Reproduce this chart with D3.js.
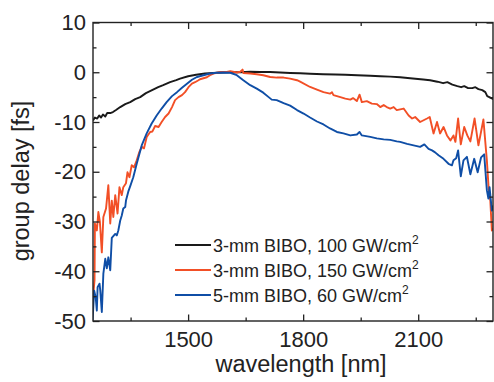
<!DOCTYPE html>
<html><head><meta charset="utf-8">
<script src="https://cdn.jsdelivr.net/npm/d3@7"></script>
<style>body{margin:0;background:#fff}svg{display:block}</style>
</head><body>
<script>
// ---- data (wavelength nm, group delay fs) ----
const blackNm = [1252,1257,1263,1268,1273,1278,1284,1289,1297,1304,1312,1323,1336,1349,1362,1375,1390,1406,1422,1435,1453,1469,1479,1500,1521,1544,1565,1589,1610,1636,1662,1688,1714,1740,1766,1792,1818,1852,1884,1910,1941,1975,2001,2027,2053,2079,2113,2131,2150,2165,2176,2189,2202,2212,2220,2230,2241,2249,2257,2267,2275,2280,2288,2296];
const blackFs = [-9.7,-9.1,-9.3,-8.7,-9.1,-8.5,-8.9,-8.2,-8.2,-8.0,-7.6,-7.0,-6.4,-6.0,-5.4,-5.0,-4.2,-3.6,-3.0,-2.6,-2.0,-1.6,-1.3,-0.8,-0.5,-0.26,-0.14,-0.04,0,0,0.1,0.06,0.06,-0.06,-0.14,-0.2,-0.3,-0.4,-0.46,-0.5,-0.6,-0.7,-0.8,-0.87,-1.0,-1.2,-1.47,-1.6,-1.9,-2.2,-2.0,-2.5,-2.8,-3.0,-2.8,-3.2,-3.2,-3.0,-3.4,-3.6,-4.0,-4.8,-5.1,-5.4];

const redNm = [1252,1256,1257,1262,1266,1270,1275,1279,1286,1292,1297,1301,1305,1310,1316,1321,1327,1331,1338,1342,1347,1353,1359,1366,1373,1379,1385,1392,1401,1407,1414,1423,1431,1440,1449,1458,1466,1475,1484,1492,1501,1510,1518,1527,1531,1549,1557,1566,1584,1601,1610,1627,1636,1642,1644,1662,1679,1696,1714,1731,1749,1766,1784,1792,1818,1836,1853,1870,1875,1879,1897,1910,1923,1930,1940,1947,1953,1966,1979,1992,2001,2010,2018,2027,2036,2044,2062,2075,2084,2092,2105,2123,2130,2140,2149,2157,2166,2175,2184,2192,2197,2204,2211,2220,2228,2236,2247,2257,2270,2279,2284,2288,2292,2296];
const redFs = [-45.3,-41.8,-30.4,-31.8,-28.1,-30.1,-36.2,-29.1,-27.4,-22.7,-30.4,-25.8,-29.1,-24.7,-28.4,-23.1,-24.7,-23.1,-22.3,-20.1,-21.1,-18.7,-19.1,-17.7,-16.0,-15.0,-15.3,-13.0,-12.0,-11.9,-10.8,-11.0,-10.0,-9.0,-8.3,-7.0,-5.6,-5.0,-4.6,-4.0,-3.0,-2.3,-2.0,-1.6,-1.4,-1.0,-0.6,-0.26,0.06,0.06,0.2,-0.06,0.1,0.54,-0.14,-0.26,-0.4,-0.6,-0.95,-1.07,-1.07,-1.27,-1.6,-1.9,-2.96,-3.5,-4.0,-4.3,-4.0,-4.6,-5.0,-5.3,-5.5,-5.2,-5.8,-4.5,-6.0,-5.8,-6.3,-6.4,-7.0,-6.6,-7.0,-7.3,-7.0,-7.6,-7.3,-8.7,-9.3,-9.0,-10.0,-9.3,-9.0,-12.3,-10.0,-12.3,-11.0,-12.7,-13.7,-12.7,-14.0,-9.3,-14.5,-11.0,-12.7,-13.9,-9.3,-14.7,-9.5,-17.7,-23.7,-25.8,-31.8,-31.4];

const blueNm = [1251,1255,1259,1262,1264,1269,1271,1275,1279,1284,1288,1292,1297,1301,1310,1314,1318,1323,1327,1331,1336,1338,1344,1350,1357,1366,1379,1392,1405,1418,1431,1444,1458,1471,1484,1497,1510,1523,1540,1557,1575,1592,1610,1627,1644,1662,1679,1696,1710,1718,1731,1749,1766,1784,1801,1818,1836,1853,1870,1888,1905,1923,1940,1947,1953,1975,1992,2010,2027,2044,2053,2071,2088,2105,2116,2127,2136,2144,2153,2166,2179,2188,2192,2199,2204,2211,2218,2227,2236,2246,2255,2264,2272,2279,2283,2286,2292,2296];
const blueFs = [-49.9,-43.9,-45.2,-47.9,-43.2,-42.5,-43.9,-48.2,-40.5,-37.5,-39.4,-37.2,-39.8,-33.3,-32.5,-32.8,-31.8,-29.8,-28.8,-27.4,-27.1,-25.8,-24.0,-22.7,-21.1,-18.4,-14.7,-12.3,-10.3,-8.7,-7.3,-6.0,-4.8,-4.0,-3.1,-2.3,-1.5,-0.95,-0.6,-0.26,-0.1,-0.06,-0.1,-0.6,-1.6,-2.6,-3.3,-4.1,-5.0,-5.5,-5.6,-6.2,-6.7,-7.6,-8.3,-9.1,-9.9,-10.5,-11.3,-12.0,-12.3,-12.7,-12.5,-12.0,-12.7,-13.0,-13.3,-13.5,-13.6,-13.9,-14.0,-14.4,-14.7,-15.0,-14.5,-15.4,-15.7,-16.1,-16.7,-17.4,-18.4,-18.7,-17.7,-17.3,-15.7,-20.9,-17.7,-17.0,-20.5,-17.4,-20.1,-17.1,-16.5,-23.7,-25.4,-23.1,-27.8,-26.8];

const seriesLabels = ["3-mm BIBO, 100 GW/cm", "3-mm BIBO, 150 GW/cm", "5-mm BIBO, 60 GW/cm"];
const xMajor = [1500, 1800, 2100];
const xMinor = [1350, 1650, 1950, 2250];
const yMajor = [-50, -40, -30, -20, -10, 0, 10];
const yMinor = [-45, -35, -25, -15, -5, 5];
const xTitle = "wavelength [nm]";
const yTitle = "group delay [fs]";

// ---- drawing ----
const W = 494, H = 382;
const L = 93, R = 493, T = 22.5, B = 321;
const FONT = "'Liberation Sans', Arial, Helvetica, sans-serif";
const colors = ["#1a1a1a", "#f24f26", "#0f4ea6"];
const fmt = d => String(d);

const svg = d3.select("body").append("svg").attr("width", W).attr("height", H);
const x = d3.scaleLinear().domain([1252, 2295]).range([L, R]);
const y = d3.scaleLinear().domain([-50, 10]).range([B, T]);

svg.append("clipPath").attr("id", "clip").append("rect")
  .attr("x", L).attr("y", T).attr("width", R - L).attr("height", B - T);

const series = [
  blackNm.map((d, i) => [d, blackFs[i]]),
  redNm.map((d, i) => [d, redFs[i]]),
  blueNm.map((d, i) => [d, blueFs[i]])
];
const line = d3.line().x(d => x(d[0])).y(d => y(d[1]));
const gLines = svg.append("g").attr("clip-path", "url(#clip)");
series.forEach((s, i) => {
  gLines.append("path").datum(s).attr("d", line)
    .attr("fill", "none").attr("stroke", colors[i])
    .attr("stroke-width", 1.9).attr("stroke-linejoin", "round");
});

function styleAxis(g) {
  g.select(".domain").remove();
  g.selectAll("line").attr("stroke", "#222").attr("stroke-width", 1.3);
  g.selectAll("text").attr("font-family", FONT).attr("font-size", 22).attr("fill", "#222");
}
svg.append("g").attr("transform", `translate(0,${B})`)
  .call(d3.axisBottom(x).tickValues(xMajor).tickSizeInner(-6.5).tickSizeOuter(0).tickPadding(10.5).tickFormat(fmt))
  .call(styleAxis);
svg.append("g").attr("transform", `translate(0,${B})`)
  .call(d3.axisBottom(x).tickValues(xMinor).tickSizeInner(-3.5).tickSizeOuter(0).tickFormat(""))
  .call(styleAxis);
svg.append("g").attr("transform", `translate(0,${T})`)
  .call(d3.axisTop(x).tickValues(xMajor).tickSizeInner(-6.5).tickSizeOuter(0).tickFormat(""))
  .call(styleAxis);
svg.append("g").attr("transform", `translate(0,${T})`)
  .call(d3.axisTop(x).tickValues(xMinor).tickSizeInner(-3.5).tickSizeOuter(0).tickFormat(""))
  .call(styleAxis);
svg.append("g").attr("transform", `translate(${L},0)`)
  .call(d3.axisLeft(y).tickValues(yMajor).tickSizeInner(-6.5).tickSizeOuter(0).tickPadding(7).tickFormat(fmt))
  .call(styleAxis);
svg.append("g").attr("transform", `translate(${L},0)`)
  .call(d3.axisLeft(y).tickValues(yMinor).tickSizeInner(-3.5).tickSizeOuter(0).tickFormat(""))
  .call(styleAxis);
svg.append("g").attr("transform", `translate(${R},0)`)
  .call(d3.axisRight(y).tickValues(yMajor).tickSizeInner(-6.5).tickSizeOuter(0).tickFormat(""))
  .call(styleAxis);
svg.append("g").attr("transform", `translate(${R},0)`)
  .call(d3.axisRight(y).tickValues(yMinor).tickSizeInner(-3.5).tickSizeOuter(0).tickFormat(""))
  .call(styleAxis);

svg.append("rect").attr("x", L).attr("y", T).attr("width", R - L).attr("height", B - T)
  .attr("fill", "none").attr("stroke", "#222").attr("stroke-width", 1.4);

svg.append("text").attr("x", 301).attr("y", 372).attr("text-anchor", "middle")
  .attr("font-family", FONT).attr("font-size", 23.5).attr("fill", "#222").text(xTitle);
svg.append("text").attr("transform", "translate(29,181) rotate(-90)").attr("text-anchor", "middle")
  .attr("font-family", FONT).attr("font-size", 23.5).attr("fill", "#222").text(yTitle);

const legY = [245, 270, 295];
seriesLabels.forEach((lab, i) => {
  svg.append("line").attr("x1", 175).attr("x2", 211).attr("y1", legY[i]).attr("y2", legY[i])
    .attr("stroke", colors[i]).attr("stroke-width", 2);
  const t = svg.append("text").attr("x", 213).attr("y", legY[i] + 6.5)
    .attr("font-family", FONT).attr("font-size", 18).attr("fill", "#222");
  t.append("tspan").text(lab);
  t.append("tspan").attr("dy", -8).attr("font-size", 12).text("2");
});
</script>
</body></html>
